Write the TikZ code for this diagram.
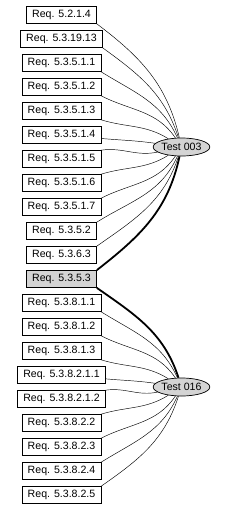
\documentclass[tikz,border=0pt]{standalone}
\usepackage{fontspec}
\setmainfont{Liberation Sans}
\usetikzlibrary{shapes.geometric}

\begin{document}
\begin{tikzpicture}[x=1pt,y=1pt,
		reqbox/.style={draw,rectangle,line width=0.7pt,minimum height=17pt,inner xsep=5.6pt,inner ysep=0pt,font=\fontsize{10.6}{12}\selectfont},
		testnode/.style={draw,ellipse,line width=0.7pt,fill=black!17,minimum width=55pt,minimum height=18pt,inner sep=0pt,font=\fontsize{10.6}{12}\selectfont},
		link/.style={line width=0.45pt},
		keylink/.style={line width=1.8pt}]
		\useasboundingbox (0,0) rectangle (225,-511);
		
		% requirements
		\node[reqbox] (r0) at (61.5,-15) {Req. 5.2.1.4};
		\node[reqbox] (r1) at (61.5,-39) {Req. 5.3.19.13};
		\node[reqbox] (r2) at (61.5,-63) {Req. 5.3.5.1.1};
		\node[reqbox] (r3) at (61.5,-87) {Req. 5.3.5.1.2};
		\node[reqbox] (r4) at (61.5,-111) {Req. 5.3.5.1.3};
		\node[reqbox] (r5) at (61.5,-135) {Req. 5.3.5.1.4};
		\node[reqbox] (r6) at (61.5,-159) {Req. 5.3.5.1.5};
		\node[reqbox] (r7) at (61.5,-183) {Req. 5.3.5.1.6};
		\node[reqbox] (r8) at (61.5,-207) {Req. 5.3.5.1.7};
		\node[reqbox] (r9) at (61.5,-231) {Req. 5.3.5.2};
		\node[reqbox] (r10) at (61.5,-255) {Req. 5.3.6.3};
		\node[reqbox,fill=black!17] (r11) at (61.5,-279) {Req. 5.3.5.3};
		\node[reqbox] (r12) at (61.5,-303) {Req. 5.3.8.1.1};
		\node[reqbox] (r13) at (61.5,-327) {Req. 5.3.8.1.2};
		\node[reqbox] (r14) at (61.5,-351) {Req. 5.3.8.1.3};
		\node[reqbox] (r15) at (61.5,-375) {Req. 5.3.8.2.1.1};
		\node[reqbox] (r16) at (61.5,-399) {Req. 5.3.8.2.1.2};
		\node[reqbox] (r17) at (61.5,-423) {Req. 5.3.8.2.2};
		\node[reqbox] (r18) at (61.5,-447) {Req. 5.3.8.2.3};
		\node[reqbox] (r19) at (61.5,-471) {Req. 5.3.8.2.4};
		\node[reqbox] (r20) at (61.5,-495) {Req. 5.3.8.2.5};
		
		% tests
		\node[testnode] (t3) at (181.5,-147) {Test 003};
		\node[testnode] (t16) at (181.5,-387) {Test 016};
		
		% links to Test 003
		\draw[link] (r0.south east) to[out=-37,in=103] (t3);
		\draw[link] (r1.south east) to[out=-36,in=108] (t3);
		\draw[link] (r2.south east) to[out=-32,in=114] (t3);
		\draw[link] (r3.south east) to[out=-27,in=124] (t3);
		\draw[link] (r4.south east) to[out=-17,in=148] (t3);
		\draw[link] (r5) to[out=-5,in=172] (t3);
		\draw[link] (r6.north east) to[out=8,in=-168] (t3);
		\draw[link] (r7.north east) to[out=17,in=-148] (t3);
		\draw[link] (r8.north east) to[out=27,in=-124] (t3);
		\draw[link] (r9.north east) to[out=32,in=-114] (t3);
		\draw[link] (r10.north east) to[out=35,in=-108] (t3);
		\draw[keylink] (r11.north east) to[out=38,in=-102] (t3);
		
		% links to Test 016
		\draw[keylink] (r11.south east) to[out=-35,in=108] (t16);
		\draw[link] (r12.south east) to[out=-32,in=114] (t16);
		\draw[link] (r13.south east) to[out=-27,in=124] (t16);
		\draw[link] (r14.south east) to[out=-17,in=148] (t16);
		\draw[link] (r15) to[out=-5,in=172] (t16);
		\draw[link] (r16.north east) to[out=8,in=-168] (t16);
		\draw[link] (r17.north east) to[out=17,in=-148] (t16);
		\draw[link] (r18.north east) to[out=27,in=-124] (t16);
		\draw[link] (r19.north east) to[out=32,in=-114] (t16);
		\draw[link] (r20.north east) to[out=35,in=-108] (t16);
	\end{tikzpicture}
\end{document}
